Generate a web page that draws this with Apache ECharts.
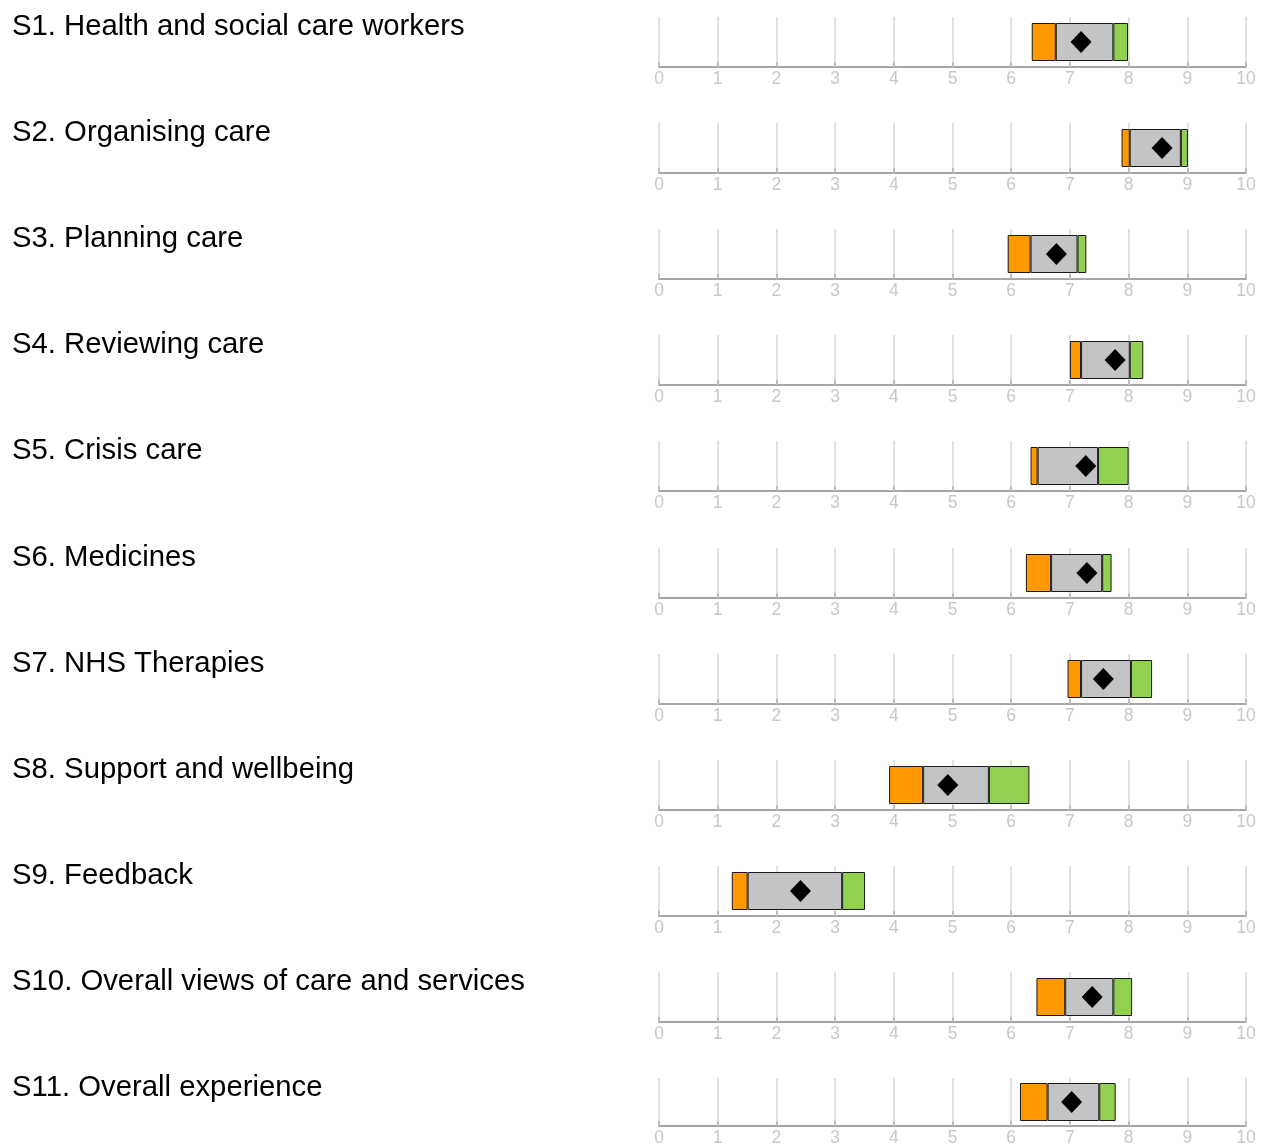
<!DOCTYPE html>
<html>
<head>
<meta charset="utf-8">
<script src="https://cdn.jsdelivr.net/npm/echarts@6/dist/echarts.min.js"></script>
<style>
  html, body { margin: 0; padding: 0; background: #ffffff; }
  #main { width: 1262px; height: 1147px; }
</style>
</head>
<body>
<div id="main"></div>
<script>
// section names
var sections = [
  'S1. Health and social care workers',
  'S2. Organising care',
  'S3. Planning care',
  'S4. Reviewing care',
  'S5. Crisis care',
  'S6. Medicines',
  'S7. NHS Therapies',
  'S8. Support and wellbeing',
  'S9. Feedback',
  'S10. Overall views of care and services',
  'S11. Overall experience'
];
// band edges (orange starts, grey starts, green starts, green ends)
var orangeStart = [6.35, 7.88, 5.94, 7.00, 6.33, 6.25, 6.96, 3.92, 1.24, 6.43, 6.15];
var greyStart   = [6.76, 8.02, 6.33, 7.19, 6.45, 6.68, 7.19, 4.50, 1.51, 6.92, 6.62];
var greenStart  = [7.74, 8.89, 7.13, 8.02, 7.48, 7.55, 8.04, 5.62, 3.12, 7.74, 7.50];
var greenEnd    = [7.99, 9.01, 7.28, 8.25, 8.00, 7.71, 8.40, 6.31, 3.51, 8.06, 7.78];
// diamond = section score
var scores      = [7.19, 8.57, 6.77, 7.77, 7.27, 7.29, 7.57, 4.92, 2.41, 7.38, 7.03];

var rowStep = 106.1;
var grids = [], xAxes = [], yAxes = [], series = [], titles = [];

function segment(i, name, value, color){
  return {
    name: name, type: 'bar', stack: 'band' + i,
    xAxisIndex: i, yAxisIndex: i,
    barWidth: 38, silent: true,
    itemStyle: color ? {color: color, borderColor: '#1a1a1a', borderWidth: 1}
                     : {color: 'rgba(0,0,0,0)', borderWidth: 0},
    data: [value]
  };
}

for(var i=0;i<sections.length;i++){
  var gridTop = Math.round(17 + rowStep*i);
  grids.push({left: 659, width: 587, top: gridTop, height: 50});
  titles.push({
    text: sections[i], left: 12, top: Math.round(12 + rowStep*i), padding: 0,
    textStyle: {fontFamily: 'Liberation Sans', fontSize: 29.3, fontWeight: 'normal', color: '#000000'}
  });
  xAxes.push({
    type: 'value', gridIndex: i, min: 0, max: 10, interval: 1,
    axisLine: {show: true, lineStyle: {color: '#a6a6a6', width: 2}},
    axisTick: {show: true, inside: true, length: 5, lineStyle: {color: '#bdbdbd', width: 2}},
    splitLine: {show: true, lineStyle: {color: '#d6d6d6', width: 1.5}},
    axisLabel: {color: '#c8c8c8', fontSize: 17.5, margin: 3, fontFamily: 'Liberation Sans'}
  });
  yAxes.push({
    type: 'category', gridIndex: i, data: ['row'],
    axisLine: {show: false}, axisTick: {show: false}, axisLabel: {show: false}
  });
  series.push(segment(i, 'base', orangeStart[i], null));
  series.push(segment(i, 'lower', greyStart[i] - orangeStart[i], '#ff9900'));
  series.push(segment(i, 'expected', greenStart[i] - greyStart[i], '#c3c4c6'));
  series.push(segment(i, 'upper', greenEnd[i] - greenStart[i], '#92d050'));
  series.push({
    name: 'score', type: 'scatter', xAxisIndex: i, yAxisIndex: i,
    symbol: 'diamond', symbolSize: [21, 22], silent: true, z: 5,
    itemStyle: {color: '#000000', opacity: 1},
    data: [[scores[i], 0]]
  });
}

var myChart = echarts.init(document.getElementById('main'));
myChart.setOption({
  animation: false,
  title: titles,
  grid: grids,
  xAxis: xAxes,
  yAxis: yAxes,
  series: series
});
</script>
</body>
</html>
